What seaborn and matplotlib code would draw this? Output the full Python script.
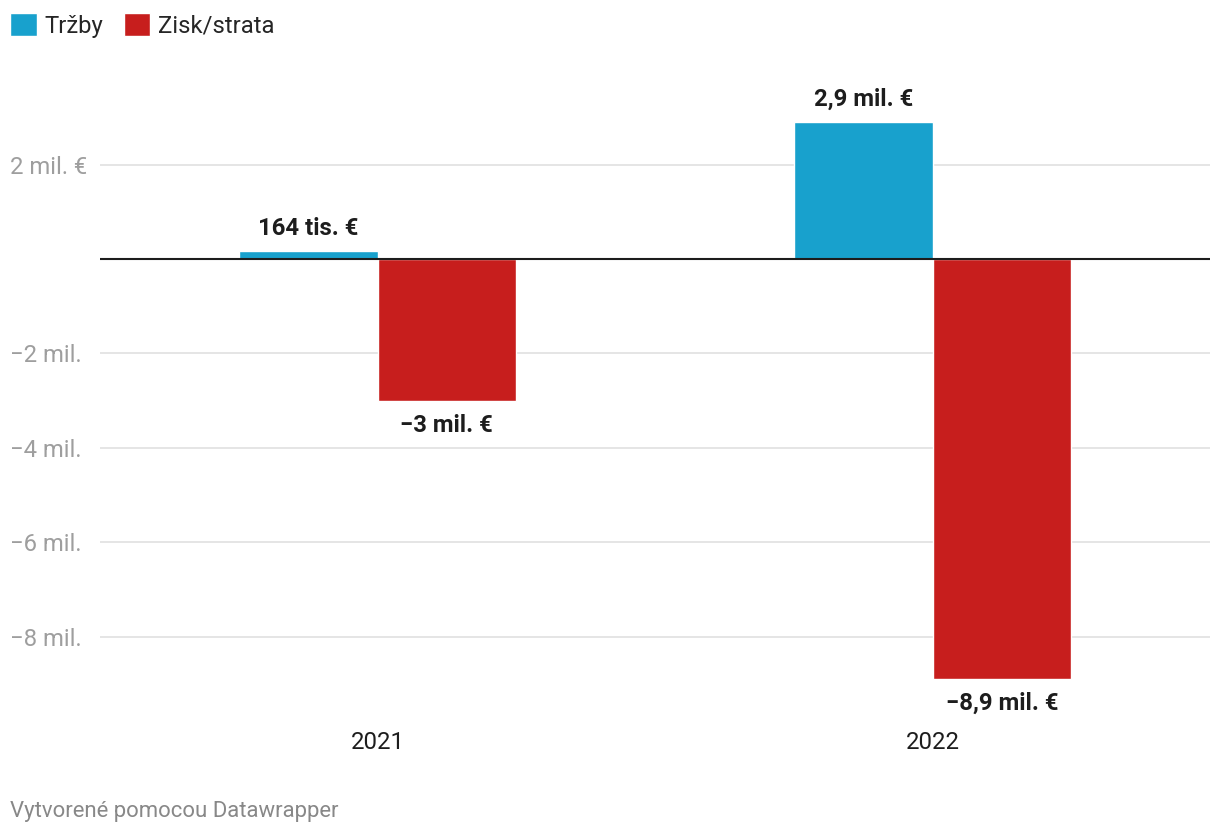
import matplotlib
matplotlib.use("Agg")
import matplotlib.pyplot as plt
import seaborn as sns
import pandas as pd

# ---- data ----
years = ["2021", "2022"]
series = ["Tržby", "Zisk/strata"]
trzby = [0.164, 2.9]          # mil. €
zisk = [-3.0, -8.9]           # mil. €
trzby_labels = ["164 tis. €", "2,9 mil. €"]
zisk_labels = ["−3 mil. €", "−8,9 mil. €"]
ytick_vals = [2, 0, -2, -4, -6, -8]
ytick_labels = ["2 mil. €", "", "−2 mil.", "−4 mil.", "−6 mil.", "−8 mil."]
colors = ["#18a1cd", "#c71e1d"]

df = pd.DataFrame({
    "rok": years * 2,
    "séria": [series[0]] * len(years) + [series[1]] * len(years),
    "hodnota": trzby + zisk,
})

sns.set_theme(style="white")
plt.rcParams["font.family"] = ["Roboto", "DejaVu Sans"]

W, H = 1220, 836
FS = 17.2
fig = plt.figure(figsize=(W / 100, H / 100), dpi=100)
ax = fig.add_axes([100 / W, 1 - 700 / H, 1110 / W, 630 / H])

sns.barplot(data=df, x="rok", y="hodnota", hue="séria", palette=colors,
            width=0.5, saturation=1, gap=0, ax=ax, zorder=3)

ax.set_xlim(-0.5, 1.5)
ppm = 47.2
ax.set_ylim(-(700 - 259) / ppm, (259 - 70) / ppm)

for s in ax.spines.values():
    s.set_visible(False)

ax.set_yticks(ytick_vals)
ax.set_yticklabels(ytick_labels)
ax.tick_params(axis="y", length=0, pad=90 * 0.72, labelsize=FS,
               labelcolor="#9e9e9e")
for lab in ax.get_yticklabels():
    lab.set_horizontalalignment("left")
ax.yaxis.grid(True, color="#e5e5e5", linewidth=1.4, zorder=0)
ax.axhline(0, color="#1d1d1d", linewidth=1.5, zorder=4)

ax.tick_params(axis="x", length=0, pad=22, labelsize=FS, labelcolor="#1d1d1d")
ax.set_xlabel("")
ax.set_ylabel("")

for cont, labs, pad in zip(ax.containers, [trzby_labels, zisk_labels], [8, 9.5]):
    ax.bar_label(cont, labels=labs, padding=pad, fontsize=FS,
                 fontweight="bold", color="#1d1d1d")

sns.move_legend(ax, "upper left", bbox_to_anchor=(10 / W, 1 - 13 / H),
                bbox_transform=fig.transFigure, ncol=2, title=None,
                frameon=False, fontsize=FS, handlelength=1.125,
                handleheight=1.125, handletextpad=0.3, columnspacing=0.87,
                borderpad=0, borderaxespad=0)

fig.text(10 / W, 1 - 812 / H, "Vytvorené pomocou Datawrapper", fontsize=15.9,
         color="#888888", ha="left", va="center")

fig.savefig("out.png", dpi=100)
